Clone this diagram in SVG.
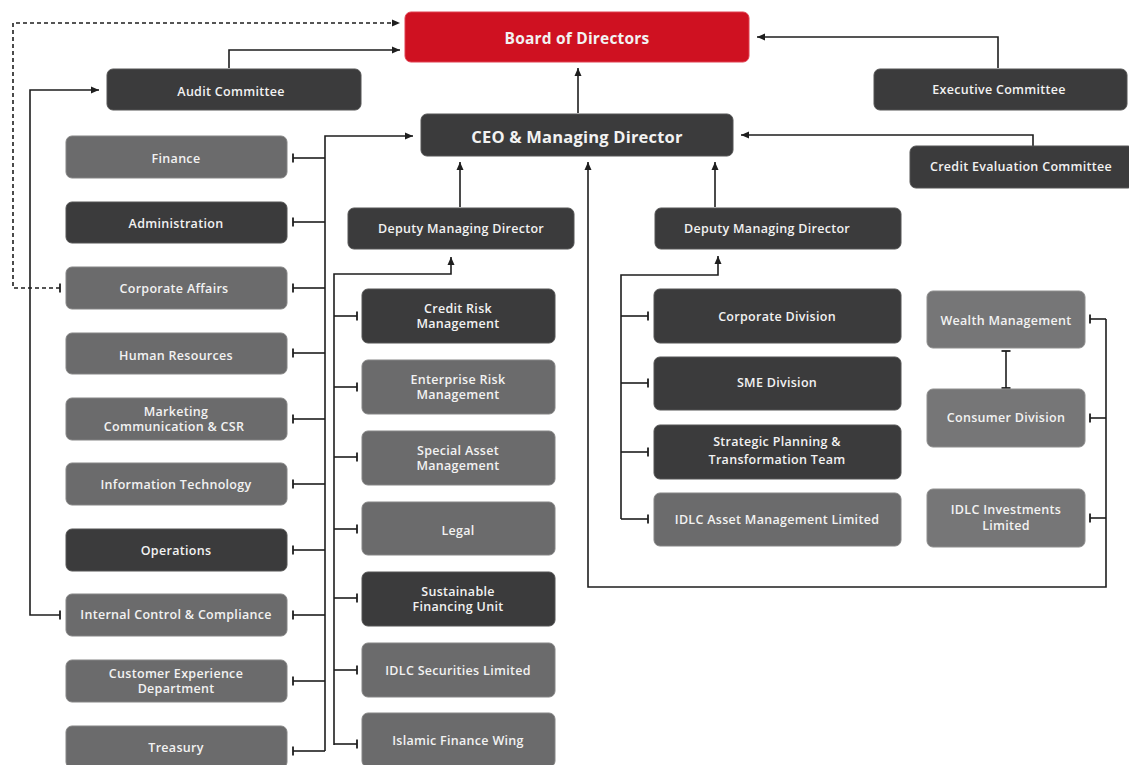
<svg xmlns="http://www.w3.org/2000/svg" width="1129" height="765" viewBox="0 0 1129 765">
<style>
.dark{fill:#3b3b3c;stroke:#555;stroke-width:1}
.gray{fill:#6b6b6c;stroke:#858585;stroke-width:1}
.lgray{fill:#767677;stroke:#8e8e8e;stroke-width:1}
.red{fill:#cf1121;stroke:#e04050;stroke-width:1}
text{font-family:"Open Sans","Noto Sans",sans-serif;font-size:12.5px;font-weight:600;letter-spacing:0.3px;fill:#f2f2f2;text-anchor:middle;dominant-baseline:central}
.big{font-size:15.5px;font-weight:700;letter-spacing:0.2px}
.ceo{font-size:16.5px;font-weight:700;letter-spacing:0.2px}
.ln{fill:none;stroke:#1e1e1e;stroke-width:1.6}
.dash{fill:none;stroke:#1e1e1e;stroke-width:1.6;stroke-dasharray:4 3}
</style>
<defs>
<marker id="arr" viewBox="0 0 8 8" refX="8" refY="4" markerWidth="8" markerHeight="8" markerUnits="userSpaceOnUse" orient="auto">
<path d="M0,0.5 L8,4 L0,7.5 Z" fill="#1e1e1e"/>
</marker>
<marker id="tick" viewBox="-2 -5 4 10" refX="0" refY="0" markerWidth="4" markerHeight="10" markerUnits="userSpaceOnUse" orient="auto">
<path d="M0,-4.5 V4.5" stroke="#1e1e1e" stroke-width="1.8"/>
</marker>
</defs>
<rect width="1129" height="765" fill="#ffffff"/>

<g id="connectors">
<path class="dash" d="M60,288 H13 V23 H400" marker-start="url(#tick)" marker-end="url(#arr)"/>
<path class="ln" d="M229,68 V50 H400" marker-end="url(#arr)"/>
<path class="ln" d="M60,615 H30 V90 H99" marker-start="url(#tick)" marker-end="url(#arr)"/>
<path class="ln" d="M578,113 V68" marker-end="url(#arr)"/>
<path class="ln" d="M998,68 V37 H757" marker-end="url(#arr)"/>
<path class="ln" d="M1033,146 V135 H741" marker-end="url(#arr)"/>
<path class="ln" d="M325,751 V136 H413" marker-end="url(#arr)"/>
<path class="ln" d="M293,158 H325" marker-start="url(#tick)"/>
<path class="ln" d="M293,222 H325" marker-start="url(#tick)"/>
<path class="ln" d="M293,288 H325" marker-start="url(#tick)"/>
<path class="ln" d="M293,353 H325" marker-start="url(#tick)"/>
<path class="ln" d="M293,419 H325" marker-start="url(#tick)"/>
<path class="ln" d="M293,484 H325" marker-start="url(#tick)"/>
<path class="ln" d="M293,550 H325" marker-start="url(#tick)"/>
<path class="ln" d="M293,615 H325" marker-start="url(#tick)"/>
<path class="ln" d="M293,681 H325" marker-start="url(#tick)"/>
<path class="ln" d="M293,751 H325" marker-start="url(#tick)"/>
<path class="ln" d="M460,207 V162" marker-end="url(#arr)"/>
<path class="ln" d="M715,207 V162" marker-end="url(#arr)"/>
<path class="ln" d="M334,745 V274 H451 V257" marker-end="url(#arr)"/>
<path class="ln" d="M357,316 H334" marker-start="url(#tick)"/>
<path class="ln" d="M357,387 H334" marker-start="url(#tick)"/>
<path class="ln" d="M357,457 H334" marker-start="url(#tick)"/>
<path class="ln" d="M357,529 H334" marker-start="url(#tick)"/>
<path class="ln" d="M357,598 H334" marker-start="url(#tick)"/>
<path class="ln" d="M357,670 H334" marker-start="url(#tick)"/>
<path class="ln" d="M357,744 H334" marker-start="url(#tick)"/>
<path class="ln" d="M621,519 V275 H718 V256" marker-end="url(#arr)"/>
<path class="ln" d="M648,316 H621" marker-start="url(#tick)"/>
<path class="ln" d="M648,383 H621" marker-start="url(#tick)"/>
<path class="ln" d="M648,452 H621" marker-start="url(#tick)"/>
<path class="ln" d="M648,519 H621" marker-start="url(#tick)"/>
<path class="ln" d="M1106,319 V587 H588 V162" marker-end="url(#arr)"/>
<path class="ln" d="M1090,319 H1106" marker-start="url(#tick)"/>
<path class="ln" d="M1090,418 H1106" marker-start="url(#tick)"/>
<path class="ln" d="M1090,518 H1106" marker-start="url(#tick)"/>
<path class="ln" d="M1006,351 V388" marker-start="url(#tick)" marker-end="url(#tick)"/>
</g>

<g id="board"><rect class="red" x="405" y="12" width="344" height="50" rx="6"/><text class="big" x="577" y="38">Board of Directors</text></g>
<g id="audit"><rect class="dark" x="107" y="69" width="254" height="41" rx="6"/><text x="231" y="91">Audit Committee</text></g>
<g id="executive"><rect class="dark" x="874" y="69" width="253" height="41" rx="6"/><text x="999" y="89">Executive Committee</text></g>
<g id="ceo"><rect class="dark" x="421" y="114" width="312" height="42" rx="6"/><text class="ceo" x="577" y="136">CEO &amp; Managing Director</text></g>
<g id="credit-eval"><rect class="dark" x="910" y="146" width="224" height="42" rx="6"/><text x="1021" y="166">Credit Evaluation Committee</text></g>

<g id="finance"><rect class="gray" x="66" y="136" width="221" height="42" rx="6"/><text x="176" y="158">Finance</text></g>
<g id="administration"><rect class="dark" x="66" y="202" width="221" height="41" rx="6"/><text x="176" y="223">Administration</text></g>
<g id="corporate-affairs"><rect class="gray" x="66" y="267" width="221" height="42" rx="6"/><text x="174" y="288">Corporate Affairs</text></g>
<g id="human-resources"><rect class="gray" x="66" y="333" width="221" height="41" rx="6"/><text x="176" y="355">Human Resources</text></g>
<g id="marketing"><rect class="gray" x="66" y="398" width="221" height="42" rx="6"/><text x="176" y="411">Marketing</text><text x="174" y="426">Communication &amp; CSR</text></g>
<g id="it"><rect class="gray" x="66" y="463" width="221" height="42" rx="6"/><text x="176" y="484">Information Technology</text></g>
<g id="operations"><rect class="dark" x="66" y="529" width="221" height="42" rx="6"/><text x="176" y="550">Operations</text></g>
<g id="icc"><rect class="gray" x="66" y="594" width="221" height="42" rx="6"/><text x="176" y="614">Internal Control &amp; Compliance</text></g>
<g id="ced"><rect class="gray" x="66" y="660" width="221" height="42" rx="6"/><text x="176" y="673">Customer Experience</text><text x="176" y="688">Department</text></g>
<g id="treasury"><rect class="gray" x="66" y="726" width="221" height="42" rx="6"/><text x="176" y="747">Treasury</text></g>

<g id="dmd-left"><rect class="dark" x="348" y="208" width="226" height="41" rx="6"/><text x="461" y="228">Deputy Managing Director</text></g>
<g id="credit-risk"><rect class="dark" x="362" y="289" width="193" height="54" rx="6"/><text x="458" y="308">Credit Risk</text><text x="458" y="323">Management</text></g>
<g id="enterprise-risk"><rect class="gray" x="362" y="360" width="193" height="54" rx="6"/><text x="458" y="379">Enterprise Risk</text><text x="458" y="394">Management</text></g>
<g id="special-asset"><rect class="gray" x="362" y="431" width="193" height="54" rx="6"/><text x="458" y="450">Special Asset</text><text x="458" y="465">Management</text></g>
<g id="legal"><rect class="gray" x="362" y="502" width="193" height="53" rx="6"/><text x="458" y="530">Legal</text></g>
<g id="sustainable"><rect class="dark" x="362" y="572" width="193" height="54" rx="6"/><text x="458" y="591">Sustainable</text><text x="458" y="606">Financing Unit</text></g>
<g id="idlc-securities"><rect class="gray" x="362" y="643" width="193" height="54" rx="6"/><text x="458" y="670">IDLC Securities Limited</text></g>
<g id="islamic"><rect class="gray" x="362" y="713" width="193" height="54" rx="6"/><text x="458" y="740">Islamic Finance Wing</text></g>

<g id="dmd-right"><rect class="dark" x="655" y="208" width="246" height="41" rx="6"/><text x="767" y="228">Deputy Managing Director</text></g>
<g id="corporate-division"><rect class="dark" x="654" y="289" width="247" height="54" rx="6"/><text x="777" y="316">Corporate Division</text></g>
<g id="sme-division"><rect class="dark" x="654" y="357" width="247" height="53" rx="6"/><text x="777" y="382">SME Division</text></g>
<g id="strategic"><rect class="dark" x="654" y="425" width="247" height="54" rx="6"/><text x="777" y="441">Strategic Planning &amp;</text><text x="777" y="459">Transformation Team</text></g>
<g id="idlc-asset"><rect class="gray" x="654" y="493" width="247" height="53" rx="6"/><text x="777" y="519">IDLC Asset Management Limited</text></g>

<g id="wealth"><rect class="lgray" x="927" y="291" width="158" height="57" rx="6"/><text x="1006" y="320">Wealth Management</text></g>
<g id="consumer"><rect class="lgray" x="927" y="389" width="158" height="58" rx="6"/><text x="1006" y="417">Consumer Division</text></g>
<g id="idlc-investments"><rect class="lgray" x="927" y="489" width="158" height="58" rx="6"/><text x="1006" y="509">IDLC Investments</text><text x="1006" y="525">Limited</text></g>
</svg>
